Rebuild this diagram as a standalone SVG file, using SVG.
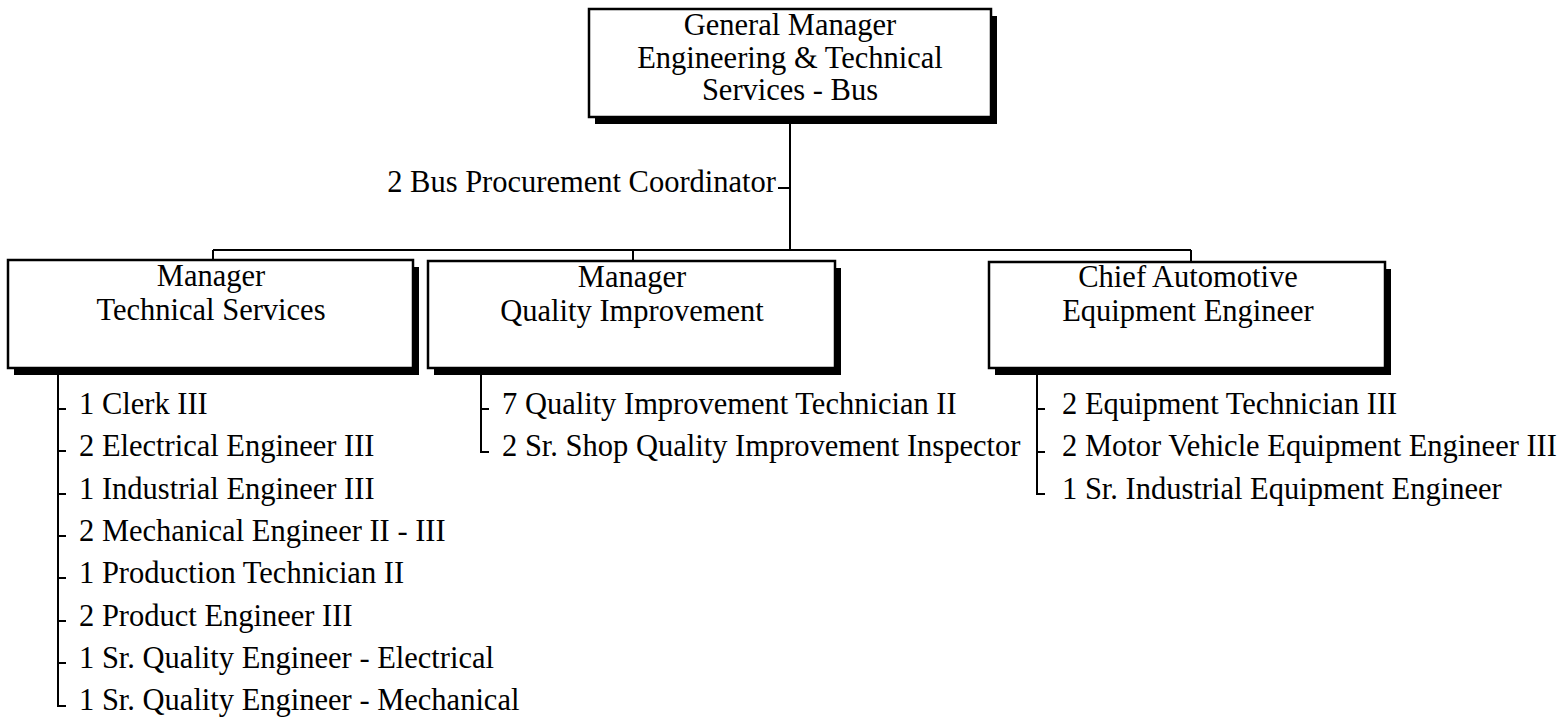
<svg xmlns="http://www.w3.org/2000/svg" width="1565" height="717" viewBox="0 0 1565 717">
<style>
text{font-family:"Liberation Serif","Times New Roman",serif;font-size:30.5px;fill:#000}
.c{text-anchor:middle}
.e{text-anchor:end}
.box{fill:#fff;stroke:#000;stroke-width:2.5}
.sh{fill:#000}
.ln{fill:none;stroke:#000;stroke-width:2}
</style>
<rect width="1565" height="717" fill="#fff"/>
<g id="connectors">
<path class="ln" d="M790 117V250M778 188H790M213 250H1191M213 250V260M633 250V261M1191 250V262"/>
<path class="ln" d="M58 368V706H66M58 409H66M58 451H66M58 494H66M58 536H66M58 578H66M58 621H66M58 663H66"/>
<path class="ln" d="M481 368V452H489M481 409H489"/>
<path class="ln" d="M1037 368V494H1045M1037 409H1045M1037 452H1045"/>
</g>
<g id="gm">
<rect class="sh" x="595" y="16" width="402" height="108"/>
<rect class="box" x="589" y="9" width="402" height="108"/>
<text class="c" x="790" y="35">General Manager</text>
<text class="c" x="790" y="68">Engineering &amp; Technical</text>
<text class="c" x="790" y="100">Services - Bus</text>
</g>
<g id="coord">
<text class="e" x="776" y="192">2 Bus Procurement Coordinator</text>
</g>
<g id="mts">
<rect class="sh" x="14" y="267" width="405" height="108"/>
<rect class="box" x="8" y="260" width="405" height="108"/>
<text class="c" x="211" y="286">Manager</text>
<text class="c" x="211" y="320">Technical Services</text>
</g>
<g id="mqi">
<rect class="sh" x="434" y="268" width="407" height="107"/>
<rect class="box" x="428" y="261" width="407" height="107"/>
<text class="c" x="632" y="287">Manager</text>
<text class="c" x="632" y="321">Quality Improvement</text>
</g>
<g id="caee">
<rect class="sh" x="995" y="269" width="396" height="106"/>
<rect class="box" x="989" y="262" width="396" height="106"/>
<text class="c" x="1188" y="287">Chief Automotive</text>
<text class="c" x="1188" y="321">Equipment Engineer</text>
</g>
<g id="list-mts">
<text x="79" y="414">1 Clerk III</text>
<text x="79" y="456">2 Electrical Engineer III</text>
<text x="79" y="499">1 Industrial Engineer III</text>
<text x="79" y="541">2 Mechanical Engineer II - III</text>
<text x="79" y="583">1 Production Technician II</text>
<text x="79" y="626">2 Product Engineer III</text>
<text x="79" y="668">1 Sr. Quality Engineer - Electrical</text>
<text x="79" y="710">1 Sr. Quality Engineer - Mechanical</text>
</g>
<g id="list-mqi">
<text x="502" y="414">7 Quality Improvement Technician II</text>
<text x="502" y="456">2 Sr. Shop Quality Improvement Inspector</text>
</g>
<g id="list-caee">
<text x="1062" y="414">2 Equipment Technician III</text>
<text x="1062" y="456">2 Motor Vehicle Equipment Engineer III</text>
<text x="1062" y="499">1 Sr. Industrial Equipment Engineer</text>
</g>
</svg>
